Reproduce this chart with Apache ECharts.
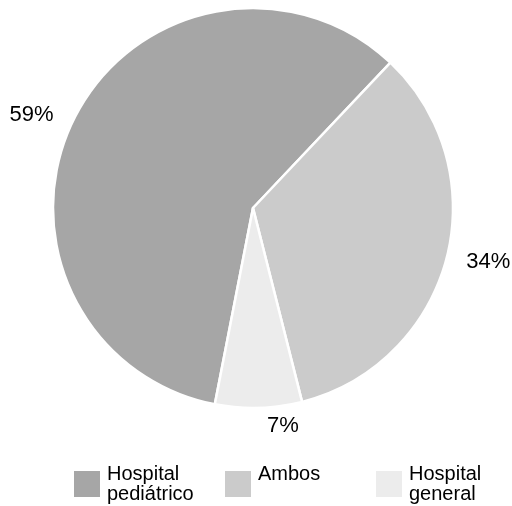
<!DOCTYPE html>
<html>
<head>
<meta charset="utf-8">
<script src="https://cdn.jsdelivr.net/npm/echarts@6/dist/echarts.min.js"></script>
<style>
html,body{margin:0;padding:0;background:#fff;}
#chart{width:512px;height:506px;}
</style>
</head>
<body>
<div id="chart"></div>
<script>
const categories = ['Hospital pediátrico', 'Ambos', 'Hospital general'];
const legendLabels = ['Hospital\npediátrico', 'Ambos\n ', 'Hospital\ngeneral'];
const values = [59, 34, 7];
const colors = ['#a6a6a6', '#cbcbcb', '#ececec'];

const labelLines = [{length: 4, length2: 13}, {length: 12, length2: 3}, {length: 18, length2: 3}];

const chart = echarts.init(document.getElementById('chart'), null, {renderer: 'canvas'});
const data = categories.map((c, i) => ({
  name: c, value: values[i],
  itemStyle: {color: colors[i]},
  labelLine: Object.assign({show: false}, labelLines[i])
}));
chart.setOption({
  animation: false,
  backgroundColor: '#ffffff',
  textStyle: {fontFamily: 'Liberation Sans, Arial, sans-serif'},
  legend: {
    data: categories,
    left: 72,
    top: 464,
    width: 470,
    orient: 'horizontal',
    icon: 'rect',
    itemWidth: 28,
    itemHeight: 28,
    itemGap: 9,
    padding: 0,
    formatter: name => legendLabels[categories.indexOf(name)],
    textStyle: {fontSize: 20, lineHeight: 20, color: '#000', width: 107, overflow: 'none', padding: [0, 0, 0, 1], fontFamily: 'Liberation Sans, Arial, sans-serif'}
  },
  series: [{
    type: 'pie',
    center: [253, 208],
    radius: [0, 200],
    startAngle: 259,
    clockwise: true,
    data: data,
    itemStyle: {borderColor: '#ffffff', borderWidth: 2.5},
    label: {
      show: true,
      position: 'outside',
      formatter: p => p.value + '%',
      fontSize: 22,
      color: '#000',
      overflow: 'none',
      edgeDistance: 0,
      fontFamily: 'Liberation Sans, Arial, sans-serif'
    },
    emphasis: {disabled: true}
  }]
});
</script>
</body>
</html>
